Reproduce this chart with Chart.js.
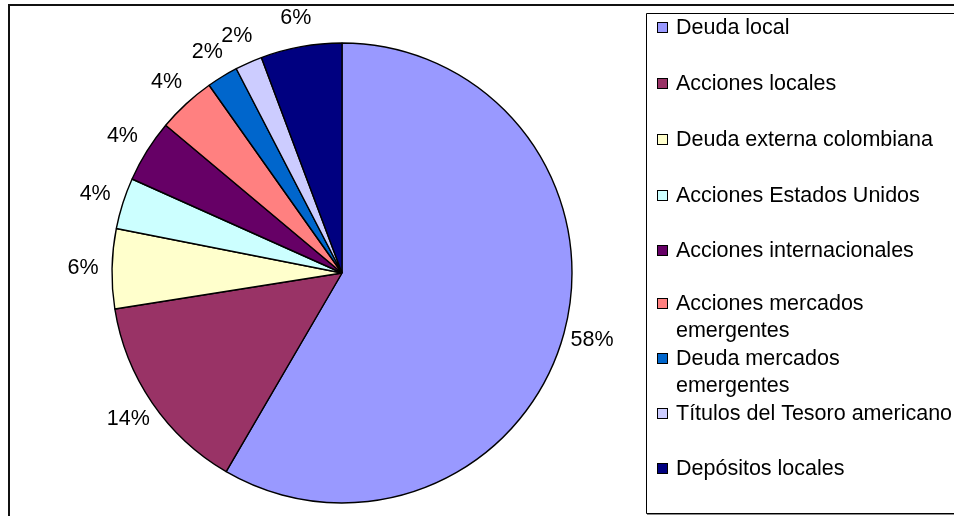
<!DOCTYPE html>
<html>
<head>
<meta charset="utf-8">
<script src="https://cdn.jsdelivr.net/npm/chart.js@4"></script>
<style>
  html, body { margin: 0; padding: 0; background: #fff; overflow: hidden; }
  canvas { display: block; }
</style>
</head>
<body>
<canvas id="pie" width="954" height="516"></canvas>
<script>
// datos del gráfico
const categories = [
    'Deuda local',
    'Acciones locales',
    'Deuda externa colombiana',
    'Acciones Estados Unidos',
    'Acciones internacionales',
    'Acciones mercados emergentes',
    'Deuda mercados emergentes',
    'Títulos del Tesoro americano',
    'Depósitos locales'
];
const shares = [58.4, 14.1, 5.6, 3.6, 4.4, 4.1, 2.2, 1.9, 5.7];
const colors = ['#9999FF', '#993366', '#FFFFCC', '#CCFFFF', '#660066', '#FF8080', '#0066CC', '#CCCCFF', '#000080'];
const twoLineItems = [5, 6];

const FONT = '21.5px "Liberation Sans", Arial, sans-serif';

// marco y fondo
const framePlugin = {
    id: 'frame',
    beforeDraw(chart) {
        const ctx = chart.ctx;
        ctx.save();
        ctx.fillStyle = '#fff';
        ctx.fillRect(0, 0, chart.width, chart.height);
        ctx.strokeStyle = '#111';
        ctx.lineWidth = 2;
        ctx.strokeRect(9, 5, chart.width + 20, chart.height + 20);
        ctx.restore();
    }
};

// etiquetas de porcentaje fuera del pastel
const pctPlugin = {
    id: 'pctLabels',
    afterDatasetsDraw(chart) {
        const ctx = chart.ctx;
        const meta = chart.getDatasetMeta(0);
        const data = chart.data.datasets[0].data;
        const total = data.reduce((a, b) => a + b, 0);
        ctx.save();
        ctx.font = FONT;
        ctx.fillStyle = '#000';
        ctx.textAlign = 'center';
        ctx.textBaseline = 'middle';
        meta.data.forEach((arc, i) => {
            const p = arc.getProps(['x', 'y', 'startAngle', 'endAngle', 'outerRadius'], true);
            const mid = (p.startAngle + p.endAngle) / 2;
            const r = p.outerRadius + 29;
            const txt = Math.round(data[i] / total * 100) + '%';
            ctx.fillText(txt, p.x + Math.cos(mid) * r, p.y + Math.sin(mid) * r);
        });
        ctx.restore();
    }
};

// leyenda a la derecha
const legendPlugin = {
    id: 'sideLegend',
    afterDraw(chart) {
        const ctx = chart.ctx;
        const rows = [27, 83, 139, 195, 250, 303, 358, 413, 468];
        ctx.save();
        ctx.strokeStyle = '#000';
        ctx.lineWidth = 1;
        ctx.beginPath();
        ctx.moveTo(chart.width + 5, 13.5);
        ctx.lineTo(646.5, 13.5);
        ctx.lineTo(646.5, 513.5);
        ctx.lineTo(chart.width + 5, 513.5);
        ctx.stroke();
        ctx.strokeStyle = '#888';
        ctx.beginPath();
        ctx.moveTo(647, 514.5);
        ctx.lineTo(chart.width + 5, 514.5);
        ctx.stroke();

        ctx.font = FONT;
        ctx.textAlign = 'left';
        ctx.textBaseline = 'middle';
        chart.data.labels.forEach((label, i) => {
            const y = rows[i];
            ctx.fillStyle = chart.data.datasets[0].backgroundColor[i];
            ctx.fillRect(657, y - 5, 10, 10);
            ctx.strokeStyle = '#000';
            ctx.strokeRect(657.5, y - 4.5, 10, 10);
            ctx.fillStyle = '#000';
            let lines = [label];
            if (twoLineItems.includes(i)) {
                const k = label.lastIndexOf(' ');
                lines = [label.slice(0, k), label.slice(k + 1)];
            }
            lines.forEach((ln, j) => ctx.fillText(ln, 676, y + 1 + j * 27));
        });
        ctx.restore();
    }
};

new Chart(document.getElementById('pie'), {
    type: 'pie',
    data: {
        labels: categories,
        datasets: [{
            data: shares,
            backgroundColor: colors,
            borderColor: '#000',
            borderWidth: 1.4
        }]
    },
    options: {
        responsive: false,
        animation: false,
        layout: { padding: { left: 111.3, right: 381.3, top: 42.3, bottom: 12.3 } },
        plugins: {
            legend: { display: false },
            tooltip: { enabled: false }
        }
    },
    plugins: [framePlugin, pctPlugin, legendPlugin]
});
</script>
</body>
</html>
